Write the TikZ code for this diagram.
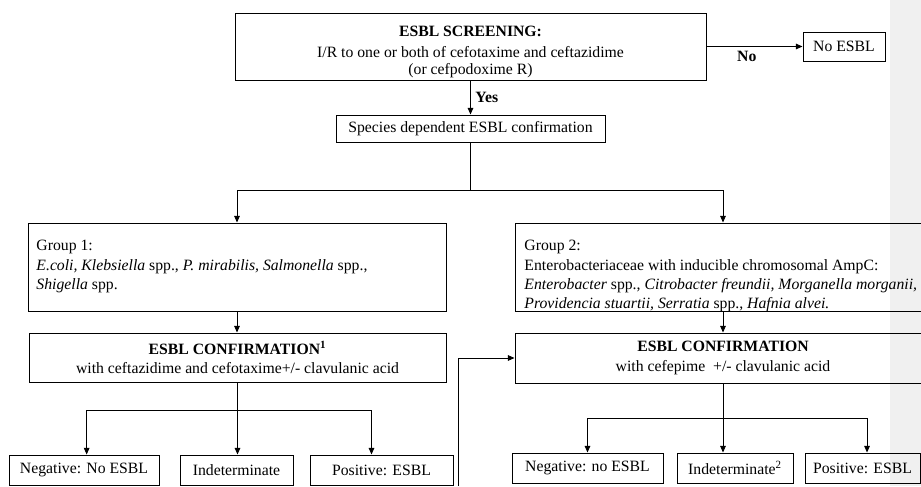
\documentclass[tikz,border=0pt]{standalone}
\usepackage{fontspec}
\setmainfont{Liberation Serif}
\usetikzlibrary{arrows.meta, positioning}
\tikzset{
        box/.style={draw, inner sep=0pt}, % plain framed box
        txt/.style={inner sep=0pt, align=left},
        yesno/.style={font=\fontsize{11.8}{14}\selectfont\bfseries},
    }

\begin{document}
\begin{tikzpicture}[x=0.75pt, y=-0.75pt, line width=0.7pt,
    font=\fontsize{11.8}{14.5}\selectfont,
    >={Triangle[length=5pt,width=4.2pt]}]
  \fill[black!6] (890,0) rectangle (921,486);
  \useasboundingbox (0,0) rectangle (921,486);

  % screening
  \node [box, minimum width=353.25pt, minimum height=50.25pt] (screen) at (470.5,46.5) {};
  \node [txt, align=center, anchor=north] (screentxt) at (470.5,26)
    {\textbf{ESBL SCREENING:}\\[1pt] I/R to one or both of cefotaxime and ceftazidime\\[-1.5pt](or cefpodoxime R)};
  \node [box, minimum width=61.5pt, minimum height=21.75pt] (noesbl) at (844,46.5) {No ESBL};
  \node [box, minimum width=201.75pt, minimum height=20.25pt] (species) at (470.5,128.5) {Species dependent ESBL confirmation};

  % groups
  \node [box, minimum width=313.5pt, minimum height=66pt] (grp1) at (237,267) {};
  \node [txt, anchor=north west] (grp1txt) at (36,240)
    {Group 1:\\ \textit{E.coli, Klebsiella} spp., \textit{P. mirabilis, Salmonella} spp.,\\ \textit{Shigella} spp.};
  \node [box, minimum width=312pt, minimum height=66pt] (grp2) at (723,267) {};
  \node [txt, anchor=north west] (grp2txt) at (524,240)
    {Group 2:\\ Enterobacteriaceae with inducible chromosomal AmpC:\\
     \textit{Enterobacter} spp., \textit{Citrobacter freundii, Morganella morganii,}\\
     \textit{Providencia stuartii, Serratia} spp., \textit{Hafnia alvei.}};

  % confirmation
  \node [box, align=center, minimum width=312.75pt, minimum height=36.75pt] (conf1) at (237.5,357.5)
    {\textbf{ESBL CONFIRMATION\textsuperscript{1}}\\with ceftazidime and cefotaxime+/- clavulanic acid};
  \node [box, align=center, minimum width=312pt, minimum height=37.5pt] (conf2) at (723,358)
    {\textbf{ESBL CONFIRMATION}\\with cefepime\ \ +/- clavulanic acid};

  % results
  \node [box, minimum width=112.5pt, minimum height=22.5pt] (neg1) at (84,470) {Negative: No ESBL};
  \node [box, minimum width=84.75pt, minimum height=22.5pt] (ind1) at (236.5,470) {Indeterminate};
  \node [box, minimum width=107.25pt, minimum height=22.5pt] (pos1) at (381.5,470) {Positive: ESBL};
  \node [box, minimum width=113.25pt, minimum height=22.5pt] (neg2) at (587.5,468) {Negative: no ESBL};
  \node [box, minimum width=87pt, minimum height=22.5pt] (ind2) at (735,468) {Indeterminate\textsuperscript{2}};
  \node [box, minimum width=86.25pt, minimum height=22.5pt] (pos2) at (862.5,468) {Positive: ESBL};

  \coordinate (split) at (470.5,190);
  \coordinate (fork1) at (237.5,410);
  \coordinate (fork2) at (723,418);
  \coordinate (ind1end) at (236.5,486);
  \coordinate (retin) at (458,486);

  \draw [->] (screen) -- (species) node [yesno, midway, right] {Yes};
  \draw [->] (screen) -- (noesbl) node [yesno, pos=0.42, below] {No};
  \draw (species) -- (split);
  \draw [->] (split) -| (grp1);
  \draw [->] (split) -| (grp2);
  \draw [->] (grp1.south) -- (grp1.south |- conf1.north);
  \draw [->] (grp2) -- (conf2);

  \draw (conf1) -- (fork1);
  \draw [->] (fork1) -| ([xshift=2pt]neg1.north);
  \draw [->] (fork1) -- (fork1 |- ind1.north);
  \draw [->] (fork1) -| ([xshift=-7.5pt]pos1.north);
  \draw (conf2) -- (fork2);
  \draw [->] (fork2) -| (neg2.north);
  \draw [->] (fork2) -- (fork2 |- ind2.north);
  \draw [->] (fork2) -| ([xshift=3.4pt]pos2.north);

  \draw (ind1) -- (ind1end);
  \draw [->] (retin) |- (conf2);
\end{tikzpicture}
\end{document}
